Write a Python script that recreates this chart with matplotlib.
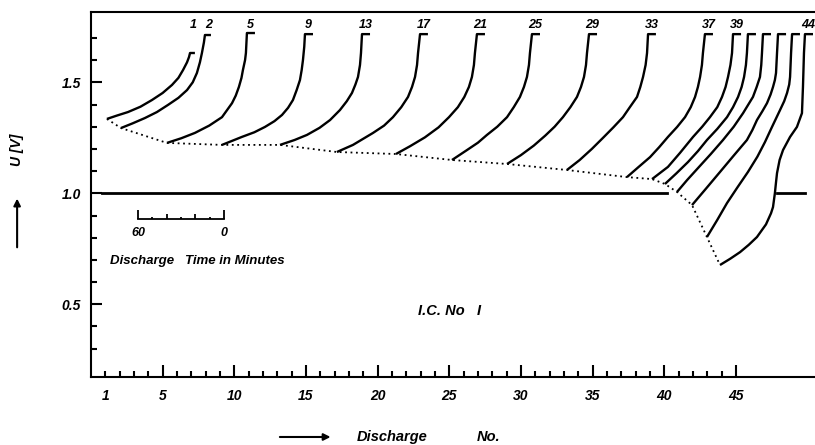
import numpy as np
import matplotlib
matplotlib.use("Agg")
import matplotlib.pyplot as plt

plt.rcParams['font.family'] = ['Liberation Sans', 'DejaVu Sans']
plt.rcParams['font.weight'] = 'bold'
plt.rcParams['font.style'] = 'italic'

'''Discharge curves read off the figure (x = discharge no., y = U in volts)'''
'''First point = end of discharge, last point = short stub at the start voltage'''

discharge_no = [1, 2, 5, 9, 13, 17, 21, 25, 29, 33, 37, 39, 40, 41, 42, 43, 44]
labelled = [1, 2, 5, 9, 13, 17, 21, 25, 29, 33, 37, 39, 44]

x_c1 = [1.11, 1.8, 2.58, 3.45, 4.25, 5.0, 5.65, 6.1, 6.42, 6.7, 6.84, 6.91, 7.25]
y_c1 = [1.335, 1.35, 1.366, 1.39, 1.42, 1.452, 1.488, 1.52, 1.555, 1.59, 1.614, 1.632, 1.632]

x_c2 = [2.09, 2.9, 3.76, 4.6, 5.37, 6.1, 6.70, 7.1, 7.39, 7.6, 7.74, 7.88, 7.95, 8.37]
y_c2 = [1.294, 1.315, 1.339, 1.366, 1.398, 1.43, 1.465, 1.50, 1.542, 1.59, 1.632, 1.68, 1.713, 1.713]

x_c5 = [5.30, 6.3, 7.25, 8.25, 9.14, 9.84, 10.1, 10.32, 10.5, 10.60, 10.75, 10.81, 10.88, 11.44]
y_c5 = [1.227, 1.248, 1.272, 1.305, 1.343, 1.406, 1.44, 1.479, 1.52, 1.555, 1.60, 1.632, 1.722, 1.722]

x_c9 = [9.14, 10.53, 11.4, 12.14, 12.8, 13.33, 13.75, 14.09, 14.35, 14.58, 14.7, 14.79, 14.88, 14.93, 15.49]
y_c9 = [1.218, 1.254, 1.275, 1.299, 1.325, 1.353, 1.385, 1.420, 1.465, 1.510, 1.555, 1.600, 1.66, 1.717, 1.717]

x_c13 = [13.19, 14.2, 15.07, 15.95, 16.68, 17.37, 17.85, 18.21, 18.45, 18.63, 18.77, 18.84, 18.91, 19.47]
y_c13 = [1.218, 1.24, 1.263, 1.295, 1.330, 1.375, 1.415, 1.452, 1.49, 1.524, 1.578, 1.632, 1.717, 1.717]

x_c17 = [17.16, 18.28, 19.68, 20.45, 21.07, 21.65, 22.12, 22.40, 22.61, 22.75, 22.82, 22.96, 23.51]
y_c17 = [1.186, 1.218, 1.272, 1.305, 1.343, 1.388, 1.434, 1.479, 1.524, 1.578, 1.632, 1.717, 1.717]

x_c21 = [21.28, 22.26, 23.3, 24.25, 24.98, 25.6, 26.05, 26.37, 26.58, 26.72, 26.79, 26.93, 27.49]
y_c21 = [1.177, 1.212, 1.252, 1.297, 1.343, 1.388, 1.434, 1.479, 1.524, 1.578, 1.632, 1.717, 1.717]

x_c25 = [25.19, 26.24, 27.0, 27.63, 28.35, 29.03, 29.5, 29.93, 30.21, 30.42, 30.56, 30.63, 30.77, 31.33]
y_c25 = [1.150, 1.195, 1.228, 1.263, 1.300, 1.343, 1.388, 1.434, 1.479, 1.524, 1.578, 1.632, 1.717, 1.717]

x_c29 = [29.03, 30.0, 30.9, 31.7, 32.35, 32.93, 33.45, 33.91, 34.19, 34.4, 34.54, 34.61, 34.75, 35.31]
y_c29 = [1.132, 1.172, 1.215, 1.26, 1.30, 1.343, 1.388, 1.434, 1.479, 1.524, 1.578, 1.632, 1.717, 1.717]

x_c33 = [33.21, 34.1, 34.95, 35.73, 36.45, 37.12, 37.6, 38.10, 38.33, 38.52, 38.7, 38.80, 38.87, 39.42]
y_c33 = [1.105, 1.15, 1.20, 1.25, 1.297, 1.343, 1.388, 1.434, 1.479, 1.524, 1.578, 1.632, 1.717, 1.717]

x_c37 = [37.40, 38.2, 39.01, 39.65, 40.26, 40.9, 41.45, 41.85, 42.15, 42.35, 42.50, 42.63, 42.70, 42.84, 43.40]
y_c37 = [1.073, 1.118, 1.163, 1.208, 1.254, 1.299, 1.343, 1.388, 1.434, 1.479, 1.524, 1.578, 1.632, 1.717, 1.717]

x_c39 = [39.15, 40.26, 41.10, 42.01, 42.65, 43.19, 43.7, 44.03, 44.28, 44.45, 44.62, 44.73, 44.80, 45.36]
y_c39 = [1.064, 1.119, 1.182, 1.254, 1.30, 1.343, 1.388, 1.434, 1.479, 1.524, 1.578, 1.632, 1.717, 1.717]

x_c40 = [40.05, 40.85, 41.66, 42.35, 42.98, 43.7, 44.38, 44.8, 45.15, 45.4, 45.57, 45.7, 45.77, 45.84, 46.40]
y_c40 = [1.042, 1.09, 1.141, 1.19, 1.240, 1.29, 1.343, 1.388, 1.434, 1.479, 1.524, 1.578, 1.632, 1.717, 1.717]

x_c41 = [40.89, 41.6, 42.36, 43.25, 44.10, 44.85, 45.50, 46.19, 46.45, 46.68, 46.77, 46.82, 46.89, 47.45]
y_c41 = [1.006, 1.06, 1.114, 1.177, 1.240, 1.30, 1.361, 1.434, 1.479, 1.524, 1.578, 1.632, 1.717, 1.717]

x_c42 = [41.94, 42.9, 43.89, 44.85, 45.77, 46.15, 46.47, 46.85, 47.17, 47.42, 47.59, 47.72, 47.80, 47.87, 47.94, 48.50]
y_c42 = [0.947, 1.02, 1.096, 1.17, 1.240, 1.285, 1.330, 1.37, 1.406, 1.445, 1.479, 1.51, 1.542, 1.632, 1.717, 1.717]

x_c43 = [42.98, 43.7, 44.38, 45.1, 45.84, 46.5, 47.03, 47.52, 48.08, 48.37, 48.57, 48.72, 48.78, 48.85, 48.92, 49.47]
y_c43 = [0.803, 0.88, 0.956, 1.026, 1.096, 1.165, 1.231, 1.299, 1.375, 1.415, 1.452, 1.49, 1.524, 1.632, 1.717, 1.717]

x_c44 = [43.89, 44.6, 45.29, 45.9, 46.47, 47.1, 47.45, 47.59, 47.72, 47.80, 47.87, 48.05, 48.29, 48.78,
         49.26, 49.61, 49.68, 49.75, 49.82, 50.38]
y_c44 = [0.677, 0.705, 0.735, 0.768, 0.803, 0.86, 0.91, 0.938, 1.0, 1.05, 1.091, 1.15, 1.195, 1.254,
         1.299, 1.361, 1.479, 1.632, 1.717, 1.717]

curves_x = [x_c1, x_c2, x_c5, x_c9, x_c13, x_c17, x_c21, x_c25, x_c29,
            x_c33, x_c37, x_c39, x_c40, x_c41, x_c42, x_c43, x_c44]
curves_y = [y_c1, y_c2, y_c5, y_c9, y_c13, y_c17, y_c21, y_c25, y_c29,
            y_c33, y_c37, y_c39, y_c40, y_c41, y_c42, y_c43, y_c44]

'''1.0 V reference line (two pieces) and time scale'''
ref_level = 1.0
ref_segments = [(0.76, 40.2), (47.9, 49.8)]
scale_minutes = [60, 50, 40, 30, 20, 10, 0]
scale_start = 3.28   # where 60 min sits on the x axis
minutes_per_unit = 10
scale_level = 0.882

x_major = [1, 5, 10, 15, 20, 25, 30, 35, 40, 45]
x_minor = [n for n in range(2, 45) if n % 5 != 0]
y_major = [0.5, 1.0, 1.5]
y_minor = [0.3, 0.4, 0.6, 0.7, 0.8, 0.9, 1.1, 1.2, 1.3, 1.4, 1.6, 1.7]

fig = plt.figure(figsize=(8.15, 4.45), dpi=100)
ax = fig.add_axes([91 / 815, 1 - 377 / 445, 724 / 815, 365 / 445])

for n, xs, ys in zip(discharge_no, curves_x, curves_y):
    ax.plot(xs, ys, color='black', lw=1.7, solid_capstyle='butt', solid_joinstyle='round',
            clip_on=False)
    if n in labelled:
        ax.annotate(str(n), xy=(xs[-2], 1.76), xytext=(2.5, 0), textcoords='offset points',
                    ha='center', va='center', fontsize=9)

'''dotted line through the end points of every discharge'''
ends_x = [xs[0] for xs in curves_x]
ends_y = [ys[0] for ys in curves_y]
ax.plot(ends_x, ends_y, color='black', lw=1.3, linestyle=(0, (1, 2)))

for a, b in ref_segments:
    ax.plot([a, b], [ref_level, ref_level], color='black', lw=2)

'''little time scale bar'''
sx = [scale_start + (60 - m) / minutes_per_unit for m in scale_minutes]
ax.plot([sx[0], sx[-1]], [scale_level, scale_level], color='black', lw=1.3)
tick_h = [0.045, 0.012, 0.027, 0.012, 0.027, 0.012, 0.045]
ax.vlines(sx, scale_level, [scale_level + h for h in tick_h], color='black', lw=1.3)
ax.text(sx[0], 0.823, '60', ha='center', va='center', fontsize=9)
ax.text(sx[-1], 0.823, '0', ha='center', va='center', fontsize=9)
ax.text(1.32, 0.694, 'Discharge   Time in Minutes', ha='left', va='center', fontsize=9.5)

ax.text(22.8, 0.471, 'I.C. No   I', ha='left', va='center', fontsize=10.5)

ax.set_xlim(0.0, 50.52)
ax.set_ylim(0.1725, 1.8167)

ax.set_xticks(x_major)
ax.set_xticklabels([str(v) for v in x_major])
ax.set_xticks(x_minor, minor=True)
ax.set_yticks(y_major)
ax.set_yticklabels(['0.5', '1.0', '1.5'])
ax.set_yticks(y_minor, minor=True)

ax.tick_params(axis='x', which='major', direction='in', length=9, width=1.5, pad=9, labelsize=10)
ax.tick_params(axis='x', which='minor', direction='in', length=4.5, width=1.5)
ax.tick_params(axis='y', which='major', direction='in', length=8, width=1.5, pad=7, labelsize=10)
ax.tick_params(axis='y', which='minor', direction='in', length=4.5, width=1.5)
ax.xaxis.get_major_ticks()[0].tick1line.set_markersize(4.5)

ax.spines['right'].set_visible(False)
for s in ['left', 'bottom', 'top']:
    ax.spines[s].set_linewidth(1.5)

'''axis titles with arrows, like the original'''
ax.annotate('', xy=(0.021, 0.56), xytext=(0.021, 0.438), xycoords='figure fraction',
            arrowprops=dict(arrowstyle='-|>', lw=1.5, color='black', mutation_scale=10))
fig.text(0.021, 0.663, 'U [V]', rotation=90, ha='center', va='center', fontsize=10)

ax.annotate('', xy=(0.409, 0.018), xytext=(0.340, 0.018), xycoords='figure fraction',
            arrowprops=dict(arrowstyle='-|>', lw=1.5, color='black', mutation_scale=10))
fig.text(0.438, 0.018, 'Discharge', ha='left', va='center', fontsize=10.5)
fig.text(0.585, 0.018, 'No.', ha='left', va='center', fontsize=10.5)

fig.savefig('out.png', dpi=100)
